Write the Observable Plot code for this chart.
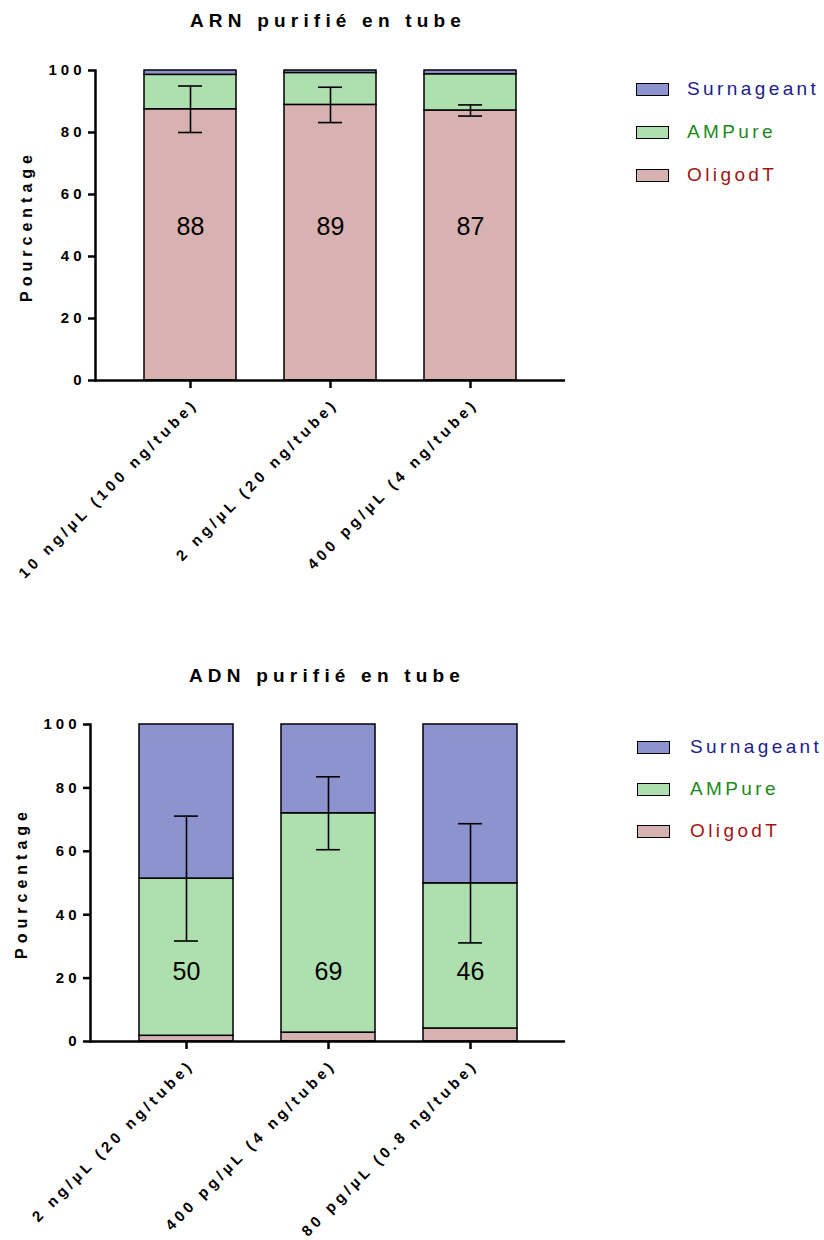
<!DOCTYPE html>
<html>
<head>
<meta charset="utf-8">
<script src="https://cdn.jsdelivr.net/npm/d3@7"></script>
<script src="https://cdn.jsdelivr.net/npm/@observablehq/plot@0.6"></script>
<style>
body{margin:0;background:#fff;font-family:"Liberation Sans",Arial,sans-serif;}
#wrap{position:relative;width:824px;height:1240px;overflow:hidden;}
.title{position:absolute;font-weight:bold;font-size:19px;letter-spacing:5.2px;white-space:nowrap;transform:translate(-50%,-50%);color:#000;}
.ylab{position:absolute;font-weight:bold;font-size:16px;letter-spacing:5px;white-space:nowrap;transform:translate(-50%,-50%) rotate(-90deg);color:#000;}
.item{position:absolute;display:flex;align-items:center;white-space:nowrap;transform:translateY(-50%);}
.sw{width:31px;height:11px;border:1.5px solid #000;margin-right:18px;}
.lt{font-size:19px;letter-spacing:3.4px;}
.chart{position:absolute;left:0;}
.chart svg{overflow:visible;}
g[aria-label="y-axis tick label"] text, g[aria-label="x-axis tick label"] text{letter-spacing:4px;font-weight:bold;}
</style>
</head>
<body>
<div id="wrap"></div>
<script>
// ---- data ----
const seriesNames = ["OligodT", "AMPure", "Surnageant"];
const seriesColors = ["#d8b1b1", "#aedfae", "#8c93cf"];
const legendTextColors = ["#a01414", "#1b8a1b", "#1c1c8e"];
const yTicks = [0, 20, 40, 60, 80, 100];

const arnTitle = "ARN purifié en tube";
const arnCategories = ["10 ng/µL (100 ng/tube)", "2 ng/µL (20 ng/tube)", "400 pg/µL (4 ng/tube)"];
const arnOligodT = [87.5, 88.9, 87.1];
const arnAMPure = [11.1, 10.3, 11.7];
const arnSurnageant = [1.4, 0.8, 1.2];
const arnErrMean = [87.5, 88.9, 87.1];
const arnErrSD = [7.5, 5.7, 1.8];
const arnLabels = ["88", "89", "87"];

const adnTitle = "ADN purifié en tube";
const adnCategories = ["2 ng/µL (20 ng/tube)", "400 pg/µL (4 ng/tube)", "80 pg/µL (0.8 ng/tube)"];
const adnOligodT = [1.8, 2.8, 4.1];
const adnAMPure = [49.6, 69.2, 45.8];
const adnSurnageant = [48.6, 28.0, 50.1];
const adnErrMean = [51.4, 72.0, 49.9];
const adnErrSD = [19.7, 11.5, 18.8];
const adnLabels = ["50", "69", "46"];

// ---- chart builder ----
function makeChart(cats, oligo, ampure, surn, errMean, errSD, labels, labelY, o) {
  const rows = [];
  cats.forEach((c, i) => {
    rows.push({cat: c, series: "OligodT", value: oligo[i]});
    rows.push({cat: c, series: "AMPure", value: ampure[i]});
    rows.push({cat: c, series: "Surnageant", value: surn[i]});
  });
  const err = cats.map((c, i) => ({cat: c, lo: errMean[i] - errSD[i], hi: errMean[i] + errSD[i]}));
  const lab = cats.map((c, i) => ({cat: c, text: labels[i], y: labelY}));
  return Plot.plot({
    width: o.width, height: o.height,
    marginLeft: o.ml, marginRight: o.mr, marginTop: o.mt, marginBottom: o.mb,
    style: {fontFamily: '"Liberation Sans", Arial, sans-serif', background: "transparent", overflow: "visible"},
    x: {domain: cats, padding: o.pad, label: null},
    y: {domain: [0, 100], label: null},
    color: {domain: seriesNames, range: seriesColors},
    marks: [
      Plot.barY(rows, {x: "cat", y: "value", fill: "series", stroke: "#000", strokeWidth: 1.5, order: seriesNames}),
      Plot.ruleX(err, {x: "cat", y1: "lo", y2: "hi", stroke: "#000", strokeWidth: 1.6}),
      Plot.tickY(err, {x: "cat", y: "lo", insetLeft: o.cap, insetRight: o.cap, stroke: "#000", strokeWidth: 1.6}),
      Plot.tickY(err, {x: "cat", y: "hi", insetLeft: o.cap, insetRight: o.cap, stroke: "#000", strokeWidth: 1.6}),
      Plot.text(lab, {x: "cat", y: "y", text: "text", fontSize: 25, fill: "#000"}),
      Plot.ruleY([0], {stroke: "#000", strokeWidth: 2.5}),
      Plot.frame({anchor: "left", stroke: "#000", strokeWidth: 2.5}),
      Plot.axisY({ticks: yTicks, tickSize: 7, tickPadding: 3, strokeWidth: 2.5, fontSize: 15, label: null, tickFormat: d => String(d)}),
      Plot.axisX({tickSize: 8, strokeWidth: 2.5, label: null, tickFormat: () => ""}),
      Plot.axisX({tickSize: 0, tickPadding: 12, tickRotate: -45, fontSize: 15, label: null, dx: 5, dy: 9})
    ]
  });
}

const wrap = document.getElementById("wrap");

function addBlock(title, titleX, titleY, ylabX, ylabY, svgTop, chart, legendX, textX, legendYs) {
  const t = document.createElement("div");
  t.className = "title"; t.textContent = title;
  t.style.left = titleX + "px"; t.style.top = titleY + "px";
  wrap.appendChild(t);
  const yl = document.createElement("div");
  yl.className = "ylab"; yl.textContent = "Pourcentage";
  yl.style.left = ylabX + "px"; yl.style.top = ylabY + "px";
  wrap.appendChild(yl);
  const c = document.createElement("div");
  c.className = "chart"; c.style.top = svgTop + "px";
  c.appendChild(chart);
  wrap.appendChild(c);
  // legend: Surnageant, AMPure, OligodT from top
  const order = [2, 1, 0];
  order.forEach((k, j) => {
    const it = document.createElement("div");
    it.className = "item";
    it.style.left = legendX + "px"; it.style.top = legendYs[j] + "px";
    const sw = document.createElement("div");
    sw.className = "sw"; sw.style.background = seriesColors[k];
    sw.style.marginRight = (textX - legendX - 34) + "px";
    const tx = document.createElement("span");
    tx.className = "lt"; tx.textContent = seriesNames[k]; tx.style.color = legendTextColors[k];
    it.appendChild(sw); it.appendChild(tx);
    wrap.appendChild(it);
  });
}

const top1 = makeChart(arnCategories, arnOligodT, arnAMPure, arnSurnageant, arnErrMean, arnErrSD, arnLabels, 49.4,
  {width: 600, height: 540, ml: 95, mr: 35, mt: 30, mb: 200, pad: 0.345, cap: 34});
addBlock(arnTitle, 328, 21, 27, 226, 40, top1, 636, 688, [89, 132, 175]);

const bot1 = makeChart(adnCategories, adnOligodT, adnAMPure, adnSurnageant, adnErrMean, adnErrSD, adnLabels, 21.8,
  {width: 600, height: 546, ml: 90, mr: 35, mt: 30, mb: 199, pad: 0.34, cap: 35});
addBlock(adnTitle, 327, 676, 22, 883, 694, bot1, 637, 691, [747, 789, 831]);
</script>
</body>
</html>
